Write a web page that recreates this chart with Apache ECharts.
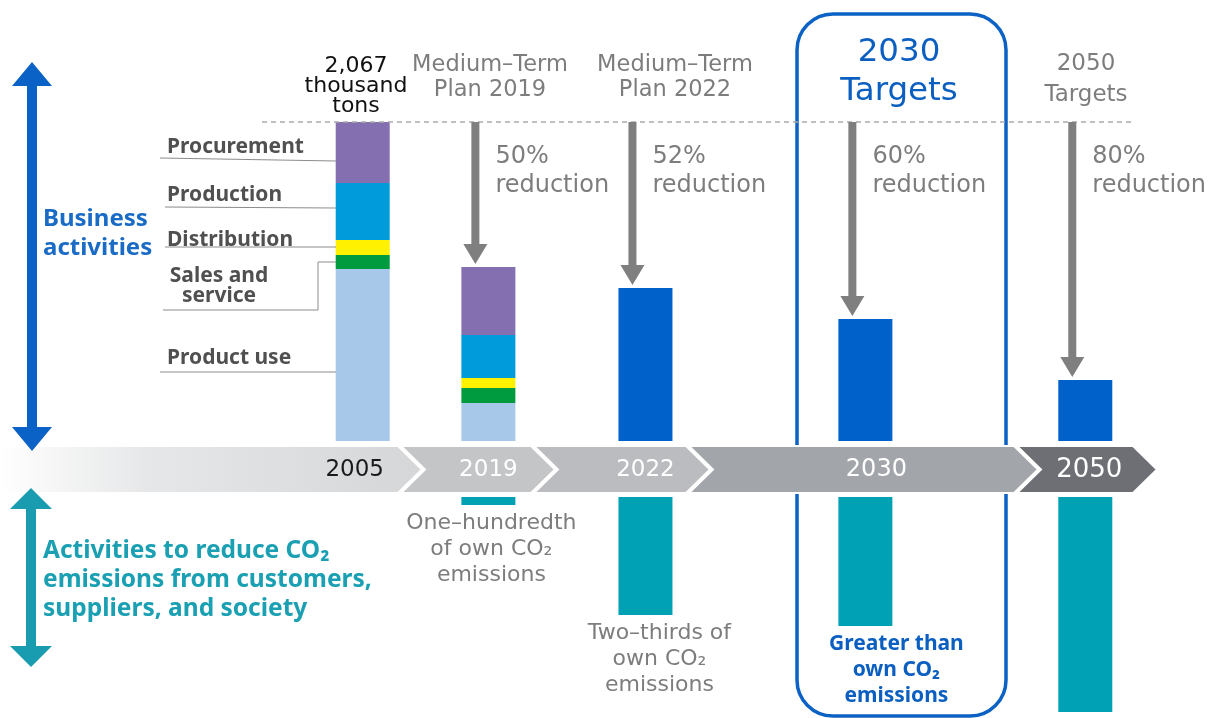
<!DOCTYPE html>
<html>
<head>
<meta charset="utf-8">
<script src="https://cdn.jsdelivr.net/npm/echarts@6.0.0/dist/echarts.min.js"></script>
<style>
  html, body { margin: 0; background: #fff; }
  #chart { width: 1208px; height: 718px; }
</style>
</head>
<body>
<div id="chart"></div>
<script>
// values in thousand tons of CO2
var years = ['2005', '2019', '2022', '2030', '2050'];
var procurement  = [395, 441, '-', '-', '-'];
var production   = [369, 279, '-', '-', '-'];
var distribution = [97, 65, '-', '-', '-'];
var salesService = [91, 97, '-', '-', '-'];
var productUse   = [1115, 246, '-', '-', '-'];
var ownTarget    = ['-', '-', 992, 790, 395];
var othersCut    = ['-', 52, 765, 836, 1393];
var reductionTxt = ['', '50%', '52%', '60%', '80%'];
var othersNote = ['',
    'One\u2013hundredth\nof own CO\u2082\nemissions',
    'Two\u2013thirds of\nown CO\u2082\nemissions',
    'Greater than\nown CO\u2082\nemissions',
    ''];

// years are not evenly spaced, so spread them over blank category slots
var slots = [0, 4, 9, 16, 23];
var cats = [];
for (var i = 0; i < 24; i++) cats.push('gap' + i);
slots.forEach(function (s, k) { cats[s] = years[k]; });
function spread(arr) {
    var out = cats.map(function () { return '-'; });
    arr.forEach(function (v, k) { out[slots[k]] = v; });
    return out;
}

var topMax = 2067, bottomMax = 1420;
var pxPerUnit = 319 / topMax;
var gray = '#7d7d7d';

var noteStyles = [null,
    {offset: [3, 0], color: gray, fontFamily: 'DejaVu Sans', fontSize: 22, fontWeight: 'normal'},
    {offset: [14, 0], color: gray, fontFamily: 'DejaVu Sans', fontSize: 22, fontWeight: 'normal'},
    {offset: [31, 0], color: '#0B5FC0', fontFamily: 'Noto Sans', fontSize: 21, fontWeight: 'bold'},
    null];

var tealData = spread(othersCut.map(function (v, k) {
    if (v === '-') return '-';
    var st = noteStyles[k] || {};
    return {
        value: v,
        label: {
            show: !!othersNote[k],
            formatter: othersNote[k],
            position: 'bottom',
            distance: 5,
            lineHeight: 26,
            align: 'center',
            offset: st.offset,
            color: st.color,
            fontFamily: st.fontFamily,
            fontSize: st.fontSize,
            fontWeight: st.fontWeight
        }
    };
}));

function stackBar(name, data, color) {
    return {
        name: name, type: 'bar', stack: 'own', barWidth: 54, clip: false,
        xAxisIndex: 0, yAxisIndex: 0,
        itemStyle: {color: color},
        data: spread(data)
    };
}

var chart = echarts.init(document.getElementById('chart'));
var option = {
    animation: false,
    backgroundColor: '#fff',
    grid: [
        {left: 347, width: 754, top: 122, height: 319, outerBoundsMode: 'none'},
        {left: 347, width: 754, top: 497, height: bottomMax * pxPerUnit, outerBoundsMode: 'none'}
    ],
    xAxis: [
        {
            type: 'category', gridIndex: 0, data: cats, z: 10,
            axisLine: {show: false}, axisTick: {show: false}, splitLine: {show: false},
            axisLabel: {
                interval: 0, margin: 17,
                formatter: function (v) {
                    if (years.indexOf(v) < 0) return '';
                    if (v === '2005') return '{d|' + v + '}';
                    if (v === '2030') return '{m|' + v + '}';
                    if (v === '2050') return '{b|' + v + '}';
                    return '{w|' + v + '}';
                },
                rich: {
                    d: {color: '#1a1a1a', fontFamily: 'DejaVu Sans', fontSize: 23, lineHeight: 24, padding: [0, 16, 0, 0]},
                    w: {color: '#ffffff', fontFamily: 'DejaVu Sans', fontSize: 23, lineHeight: 24},
                    m: {color: '#ffffff', fontFamily: 'DejaVu Sans', fontSize: 24, lineHeight: 24, padding: [0, 0, 0, 22]},
                    b: {color: '#ffffff', fontFamily: 'DejaVu Sans', fontSize: 26, lineHeight: 24, padding: [0, 0, 0, 8]}
                }
            }
        },
        {
            type: 'category', gridIndex: 1, data: cats, show: false
        }
    ],
    yAxis: [
        {type: 'value', gridIndex: 0, min: 0, max: topMax, show: false},
        {type: 'value', gridIndex: 1, min: 0, max: bottomMax, inverse: true, show: false}
    ],
    series: [
        stackBar('Product use', productUse, '#A7C8E9'),
        stackBar('Sales and service', salesService, '#009B3F'),
        stackBar('Distribution', distribution, '#FFF100'),
        stackBar('Production', production, '#009BDB'),
        stackBar('Procurement', procurement, '#8470B1'),
        stackBar('Own CO2 target', ownTarget, '#0061CA'),
        {
            name: 'Reduction for customers, suppliers and society', type: 'bar',
            xAxisIndex: 1, yAxisIndex: 1, barWidth: 54, clip: false,
            itemStyle: {color: '#00A0B5'},
            data: tealData
        }
    ]
};
chart.setOption(option);

// decorations
function txt(str, x, y, o) {
    return {
        type: 'text', z: 6, silent: true,
        style: {
            text: str, x: x, y: y,
            fill: o.color || gray,
            fontFamily: o.family || 'DejaVu Sans',
            fontSize: o.size || 21,
            fontWeight: o.weight || 'normal',
            lineHeight: o.lh,
            align: o.align || 'left',
            verticalAlign: o.va || 'top'
        }
    };
}
function poly(points, fill, z) {
    return {type: 'polygon', z: z || 4, silent: true, shape: {points: points}, style: {fill: fill}};
}
function dblArrow(cx, y1, y2, head, headH, shaft, color) {
    return poly([
        [cx, y1], [cx + head, y1 + headH], [cx + shaft, y1 + headH], [cx + shaft, y2 - headH],
        [cx + head, y2 - headH], [cx, y2], [cx - head, y2 - headH], [cx - shaft, y2 - headH],
        [cx - shaft, y1 + headH], [cx - head, y1 + headH]
    ], color);
}
function line(pts, color, w) {
    return {type: 'polyline', z: 4, silent: true, shape: {points: pts},
        style: {stroke: color || '#8c8c8c', lineWidth: w || 1, fill: null}};
}

var g = [];
// 2030 highlight frame
g.push({type: 'rect', z: 0, silent: true,
    shape: {x: 797, y: 14, width: 209, height: 702, r: 36},
    style: {fill: null, stroke: '#0B62C4', lineWidth: 3.5}});
// timeline band
var y0 = 446, y1 = 493, ym = 469.5, d = 24;
g.push({type: 'polygon', z: 1, silent: true,
    shape: {points: [[0, y0], [398, y0], [398 + d, ym], [398, y1], [0, y1]]},
    style: {fill: new echarts.graphic.LinearGradient(0, 0, 1, 0, [
        {offset: 0, color: '#ffffff'}, {offset: 0.35, color: '#e6e7e8'}, {offset: 1, color: '#d5d6d7'}]),
        stroke: '#fff', lineWidth: 2}});
[[401, 531, '#c4c5c7'], [534, 686, '#babcbf'], [689, 1014, '#a2a5aa'], [1017, 1133, '#6e6f74']].forEach(function (s) {
    g.push({type: 'polygon', z: 1, silent: true,
        shape: {points: [[s[0], y0], [s[1], y0], [s[1] + d, ym], [s[1], y1], [s[0], y1], [s[0] + d, ym]]},
        style: {fill: s[2], stroke: '#fff', lineWidth: 2}});
});
// dashed reference line at the 2005 level
var refY = chart.convertToPixel({xAxisIndex: 0, yAxisIndex: 0}, [cats[0], topMax])[1];
g.push({type: 'line', z: 3, silent: true, shape: {x1: 262, y1: refY, x2: 1132, y2: refY},
    style: {stroke: '#aaaaaa', lineWidth: 1.5, lineDash: [5, 4]}});
// side arrows
g.push(dblArrow(32, 62, 451, 20, 24, 5, '#0A62C6'));
g.push(dblArrow(31, 488, 667, 21, 21, 5, '#1A9CB0'));

// reduction arrows down to each bar
for (var k = 1; k < years.length; k++) {
    var total = k === 1
        ? procurement[1] + production[1] + distribution[1] + salesService[1] + productUse[1]
        : ownTarget[k];
    var p = chart.convertToPixel({xAxisIndex: 0, yAxisIndex: 0}, [years[k], total]);
    var cx = p[0] - 13, tip = p[1] - 3;
    g.push(poly([[cx - 4, refY], [cx + 4, refY], [cx + 4, tip - 20], [cx + 12, tip - 20],
        [cx, tip], [cx - 12, tip - 20], [cx - 4, tip - 20]], '#7f7f7f'));
    g.push(txt(reductionTxt[k] + '\nreduction', cx + 20, 142, {size: 24, lh: 29}));
}

// headers
g.push(txt('2,067\nthousand\ntons', 356, 56, {color: '#111', size: 22, lh: 20, align: 'center'}));
g.push(txt('Medium\u2013Term\nPlan 2019', 490, 52.5, {size: 22.5, lh: 25, align: 'center'}));
g.push(txt('Medium\u2013Term\nPlan 2022', 675, 52.5, {size: 22.5, lh: 25, align: 'center'}));
g.push(txt('2030\nTargets', 899, 33.5, {color: '#0B5FC0', size: 32.5, lh: 39, align: 'center'}));
g.push(txt('2050\nTargets', 1086, 48.5, {size: 23, lh: 31, align: 'center'}));

// side captions
g.push(txt('Business\nactivities', 43, 204.5, {color: '#1A6BC6', family: 'Noto Sans', weight: 'bold', size: 24, lh: 29}));
g.push(txt('Activities to reduce CO\u2082\nemissions from customers,\nsuppliers, and society', 43, 536.5,
    {color: '#1AA0B2', family: 'Noto Sans', weight: 'bold', size: 24.5, lh: 29}));

// breakdown labels and leader lines
var lab = {color: '#505050', family: 'Noto Sans', weight: 'bold', size: 21, va: 'middle'};
g.push(txt('Procurement', 167, 147, lab));
g.push(txt('Production', 167, 195, lab));
g.push(txt('Distribution', 167, 240, lab));
g.push(txt('Sales and\nservice', 219, 286, {color: '#505050', family: 'Noto Sans', weight: 'bold', size: 21, lh: 20, align: 'center', va: 'middle'}));
g.push(txt('Product use', 167, 358, lab));
g.push(line([[160, 158], [336, 161]]));
g.push(line([[165, 207], [336, 208]]));
g.push(line([[165, 247], [336, 247]]));
g.push(line([[163, 310], [318, 310], [318, 262], [336, 262]]));
g.push(line([[160, 372], [336, 372]]));

chart.setOption({graphic: g});
</script>
</body>
</html>
